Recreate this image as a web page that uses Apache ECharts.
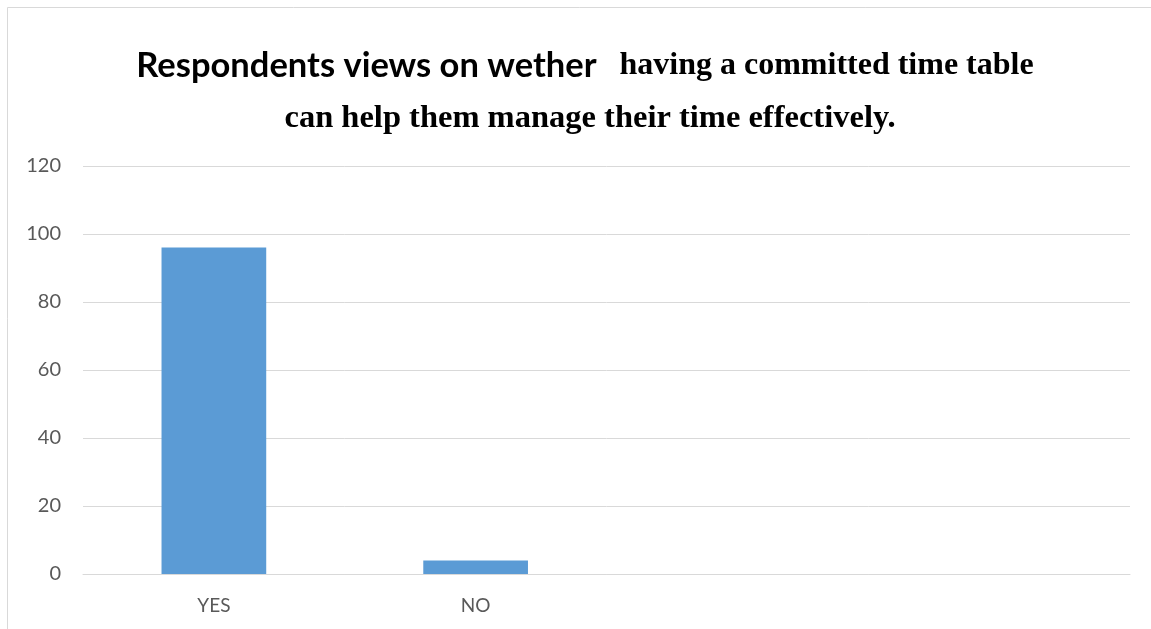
<!DOCTYPE html>
<html>
<head>
<meta charset="utf-8">
<script src="https://cdn.jsdelivr.net/npm/echarts@6/dist/echarts.min.js"></script>
<style>
html,body{margin:0;padding:0;background:#fff;}
#chart{width:1151px;height:629px;}
</style>
</head>
<body>
<div id="chart"></div>
<script>
const categories = ['YES', 'NO', '', ''];
const responses = [96, 4, null, null];
const yTicks = { min: 0, max: 120, interval: 20 };
const titleSans = 'Respondents views on wether';
const titleSerif1 = 'having a committed time table';
const titleLine2 = 'can help them manage their time effectively.';

const chart = echarts.init(document.getElementById('chart'));
chart.setOption({
  backgroundColor: '#ffffff',
  animation: false,
  graphic: [{
    type: 'rect',
    shape: { x: 7.5, y: 7.5, width: 1300, height: 800 },
    style: { fill: 'none', stroke: '#d9d9d9', lineWidth: 1 },
    silent: true
  }],
  title: [{
    text: '{a|' + titleSans + '}{s| }{b|' + titleSerif1 + '}',
    left: 580, top: 43, textAlign: 'center',
    textStyle: {
      rich: {
        a: { fontFamily: 'Lato', fontWeight: 'bold', fontSize: 34.5, color: '#000' },
        s: { width: 23, fontSize: 32 },
        b: { fontFamily: 'Liberation Serif', fontWeight: 'bold', fontSize: 32, color: '#000' }
      }
    }
  }, {
    text: titleLine2,
    left: 585, top: 97, textAlign: 'center',
    textStyle: { fontFamily: 'Liberation Serif', fontWeight: 'bold', fontSize: 32.5, color: '#000' }
  }],
  grid: { left: 83, right: 21, top: 166, bottom: 55, containLabel: false },
  xAxis: {
    type: 'category',
    data: categories,
    axisLine: { lineStyle: { color: '#d9d9d9', width: 1 } },
    axisTick: { show: false },
    axisLabel: { color: '#595959', fontFamily: 'Lato', fontSize: 19, margin: 22 }
  },
  yAxis: {
    type: 'value',
    min: yTicks.min, max: yTicks.max, interval: yTicks.interval,
    axisLine: { show: false },
    axisTick: { show: false },
    splitLine: { lineStyle: { color: '#d9d9d9', width: 1 } },
    axisLabel: { color: '#595959', fontFamily: 'Lato', fontSize: 20, margin: 22 }
  },
  series: [{
    type: 'bar',
    data: responses,
    barWidth: '40%',
    itemStyle: { color: '#5b9bd5' }
  }]
});
</script>
</body>
</html>
